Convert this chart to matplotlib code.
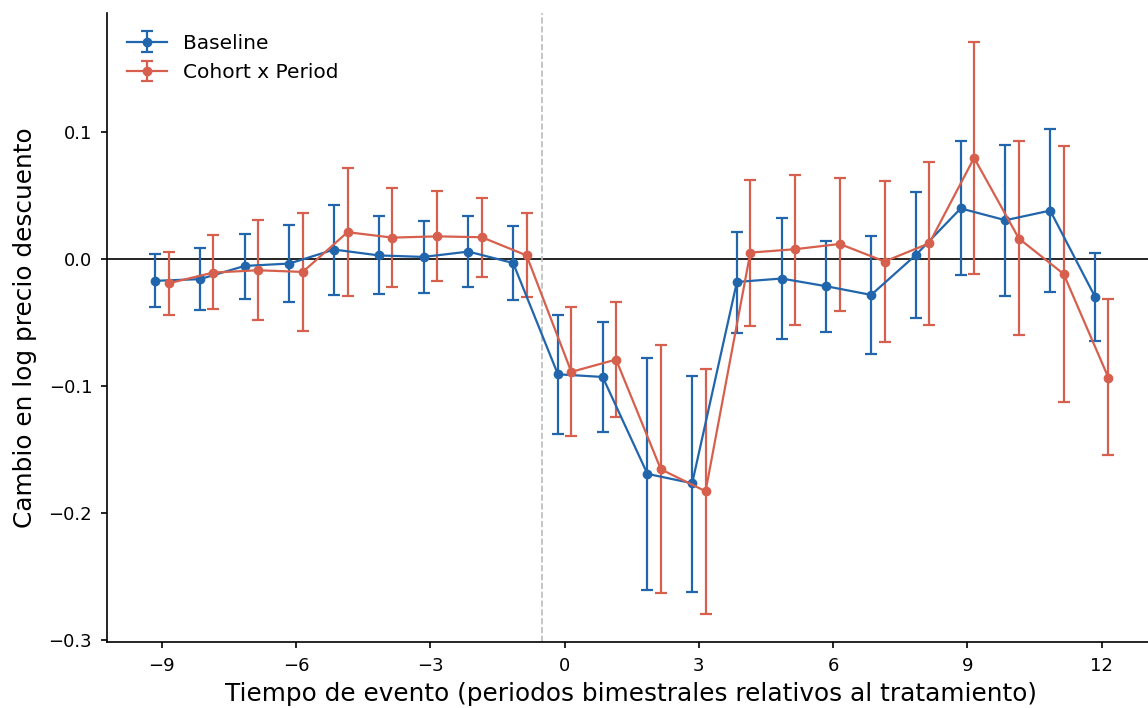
import numpy as np
import matplotlib
matplotlib.use('Agg')
import matplotlib.pyplot as plt

# Event time (bi-monthly periods relative to treatment)
periods = list(range(-9, 13))

# Baseline estimates and 95% CI bounds
base_coef = [-0.017, -0.0157, -0.0053, -0.0034, 0.0076, 0.003, 0.0018, 0.006, -0.003,
             -0.0906, -0.0927, -0.169, -0.1764,
             -0.0179, -0.0152, -0.0213, -0.0281, 0.0034, 0.040, 0.0307, 0.0383, -0.0294]
base_hi = [0.0045, 0.009, 0.020, 0.027, 0.0425, 0.034, 0.030, 0.034, 0.026,
           -0.0436, -0.0496, -0.0777, -0.0916,
           0.0218, 0.0328, 0.0142, 0.0186, 0.0533, 0.093, 0.090, 0.1024, 0.0047]
base_lo = [-0.038, -0.040, -0.031, -0.034, -0.028, -0.0276, -0.0265, -0.022, -0.0325,
           -0.1375, -0.1357, -0.2604, -0.262,
           -0.0577, -0.063, -0.057, -0.0745, -0.046, -0.0128, -0.0286, -0.026, -0.064]

# Cohort x Period estimates and 95% CI bounds
coh_coef = [-0.019, -0.0105, -0.0087, -0.010, 0.0213, 0.017, 0.018, 0.0173, 0.003,
            -0.0887, -0.079, -0.1654, -0.1827,
            0.0052, 0.0079, 0.012, -0.0018, 0.0126, 0.0798, 0.0163, -0.0116, -0.0932]
coh_hi = [0.0055, 0.019, 0.031, 0.0367, 0.0717, 0.056, 0.0535, 0.048, 0.0365,
          -0.0375, -0.034, -0.0675, -0.0864,
          0.0625, 0.0667, 0.0643, 0.0614, 0.0764, 0.1714, 0.0927, 0.0895, -0.0315]
coh_lo = [-0.044, -0.039, -0.048, -0.0565, -0.029, -0.022, -0.017, -0.014, -0.030,
          -0.1394, -0.124, -0.263, -0.279,
          -0.0522, -0.0517, -0.0404, -0.0648, -0.0514, -0.012, -0.0598, -0.1123, -0.1543]

blue = '#2166ac'
red = '#d6604d'
offset = 0.15

x = np.array(periods)
fig = plt.figure(figsize=(11.48, 7.08), dpi=100)
ax = fig.add_axes([0.093, 0.093, 0.914, 0.888])

b = np.array(base_coef)
ax.errorbar(x - offset, b, yerr=[b - np.array(base_lo), np.array(base_hi) - b],
            color=blue, marker='o', ms=6, lw=1.6, elinewidth=1.6, capsize=4.5,
            capthick=1.6, label='Baseline')
c = np.array(coh_coef)
ax.errorbar(x + offset, c, yerr=[c - np.array(coh_lo), np.array(coh_hi) - c],
            color=red, marker='o', ms=6, lw=1.6, elinewidth=1.6, capsize=4.5,
            capthick=1.6, label='Cohort x Period')

ax.axhline(0, color='black', lw=1.2, zorder=0)
ax.axvline(-0.5, color='#bbbbbb', ls='--', lw=1.2, zorder=0)

ax.set_xticks([-9, -6, -3, 0, 3, 6, 9, 12])
ax.set_yticks([-0.3, -0.2, -0.1, 0.0, 0.1])
ax.set_xlim(-10.23, 13.215)
ax.set_ylim(-0.3015, 0.1935)
ax.tick_params(labelsize=13, width=1.2, length=4.5, pad=6)
for s in ['left', 'bottom']:
    ax.spines[s].set_linewidth(1.2)
ax.spines['top'].set_visible(False)
ax.spines['right'].set_visible(False)

ax.set_xlabel('Tiempo de evento (periodos bimestrales relativos al tratamiento)', fontsize=17.8, labelpad=5)
ax.set_ylabel('Cambio en log precio descuento', fontsize=17.8, labelpad=8)
ax.legend(loc='upper left', frameon=False, fontsize=14.5, borderaxespad=0.6)

fig.savefig('out.png', dpi=100)
